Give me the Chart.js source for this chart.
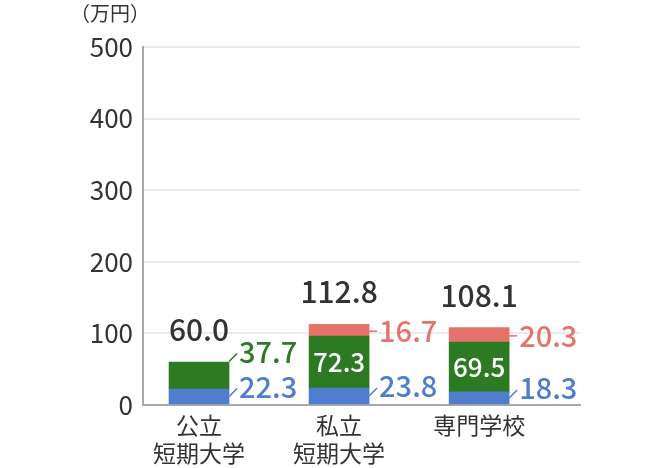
<!DOCTYPE html>
<html>
<head>
<meta charset="utf-8">
<script src="https://cdn.jsdelivr.net/npm/chart.js@4"></script>
<style>
  html, body { margin: 0; padding: 0; background: #fff; }
  #wrap { width: 650px; height: 468px; }
</style>
</head>
<body>
<div id="wrap"><canvas id="chart"></canvas></div>
<script>
// categories and values (万円)
const categories = [['公立', '短期大学'], ['私立', '短期大学'], ['専門学校']];
const blueValues = [22.3, 23.8, 18.3];
const greenValues = [37.7, 72.3, 69.5];
const redValues = [null, 16.7, 20.3];
const totals = [60.0, 112.8, 108.1];
const yTicks = [0, 100, 200, 300, 400, 500];

const FONT = "'Noto Sans CJK JP', 'Noto Sans', sans-serif";
const BLUE = '#517dce';
const GREEN = '#2c7a22';
const RED = '#e6736b';
const TEXT = '#333333';

function toPoints(values) {
    return values.map((v, i) => ({ x: i + 0.4, y: v }));
}

// draws totals, segment labels and the small leader lines
const labelPlugin = {
    id: 'labels',
    afterDatasetsDraw(chart) {
        const ctx = chart.ctx;
        const metas = [0, 1, 2].map(i => chart.getDatasetMeta(i));
        ctx.save();
        categories.forEach((c, i) => {
            const blue = metas[0].data[i];
            const green = metas[1].data[i];
            const red = metas[2].data[i];
            const right = blue.x + blue.width / 2;
            const segMid = el => (el.y + el.base) / 2;

            // total above the bar
            const topEl = redValues[i] != null ? red : green;
            ctx.fillStyle = TEXT;
            ctx.font = '500 30px ' + FONT;
            ctx.textAlign = 'center';
            ctx.textBaseline = 'alphabetic';
            ctx.fillText(totals[i].toFixed(1), blue.x, topEl.y - 21);

            const side = (text, color, labelY, slanted) => {
                ctx.strokeStyle = color;
                ctx.lineWidth = 1.5;
                ctx.beginPath();
                if (slanted) {
                    ctx.moveTo(right, labelY + 10);
                    ctx.lineTo(right + 8, labelY + 2);
                } else {
                    ctx.moveTo(right, labelY);
                    ctx.lineTo(right + 8, labelY);
                }
                ctx.stroke();
                ctx.fillStyle = color;
                ctx.font = '500 29px ' + FONT;
                ctx.textAlign = 'left';
                ctx.textBaseline = 'middle';
                ctx.fillText(text, right + 10, labelY);
            };

            // blue
            const blueY = segMid(blue) - 10;
            side(blueValues[i].toFixed(1), BLUE, blueY, true);

            // green: inside if tall enough
            const gh = Math.abs(green.base - green.y);
            if (gh > 40) {
                ctx.fillStyle = '#ffffff';
                ctx.font = '500 26px ' + FONT;
                ctx.textAlign = 'center';
                ctx.textBaseline = 'middle';
                ctx.fillText(greenValues[i].toFixed(1), green.x, segMid(green));
            } else {
                const gy = Math.min(segMid(green), blueY - 35);
                side(greenValues[i].toFixed(1), GREEN, gy, true);
            }

            // red
            if (redValues[i] != null) {
                side(redValues[i].toFixed(1), RED, segMid(red) + 1, false);
            }
        });

        // unit label
        ctx.fillStyle = TEXT;
        ctx.font = '20px ' + FONT;
        ctx.textAlign = 'center';
        ctx.textBaseline = 'middle';
        ctx.fillText('（万円）', 110, 13);
        ctx.restore();
    }
};

new Chart(document.getElementById('chart'), {
    type: 'bar',
    data: {
        datasets: [
            { data: toPoints(blueValues), backgroundColor: BLUE },
            { data: toPoints(greenValues), backgroundColor: GREEN },
            { data: toPoints(redValues), backgroundColor: RED }
        ]
    },
    options: {
        responsive: true,
        maintainAspectRatio: false,
        animation: false,
        layout: { padding: { top: 47, left: 0, right: 70, bottom: 0 } },
        datasets: { bar: { barThickness: 60 } },
        plugins: {
            legend: { display: false },
            tooltip: { enabled: false }
        },
        scales: {
            x: {
                type: 'linear',
                stacked: true,
                offset: false,
                min: 0,
                max: 3.12,
                afterBuildTicks: scale => {
                    scale.ticks = categories.map((c, i) => ({ value: i + 0.4 }));
                },
                afterFit: scale => { scale.height = 63; },
                grid: { drawOnChartArea: false, drawTicks: false },
                border: { display: true, color: '#aaaaaa', width: 2 },
                ticks: {
                    autoSkip: false,
                    maxRotation: 0,
                    padding: 6,
                    color: TEXT,
                    font: { family: FONT, size: 23, lineHeight: 1.22 },
                    callback: (v, i) => categories[i]
                }
            },
            y: {
                stacked: true,
                min: 0,
                max: 500,
                afterBuildTicks: scale => {
                    scale.ticks = yTicks.map(v => ({ value: v }));
                },
                afterFit: scale => { scale.width = 143; },
                grid: {
                    drawTicks: false,
                    lineWidth: 2,
                    color: ctx => ctx.tick && ctx.tick.value === 0 ? 'rgba(0,0,0,0)' : '#ebebeb'
                },
                border: { display: true, color: '#aaaaaa', width: 2 },
                ticks: {
                    padding: 10,
                    color: TEXT,
                    font: { family: FONT, size: 26 }
                }
            }
        }
    },
    plugins: [labelPlugin]
});
</script>
</body>
</html>
